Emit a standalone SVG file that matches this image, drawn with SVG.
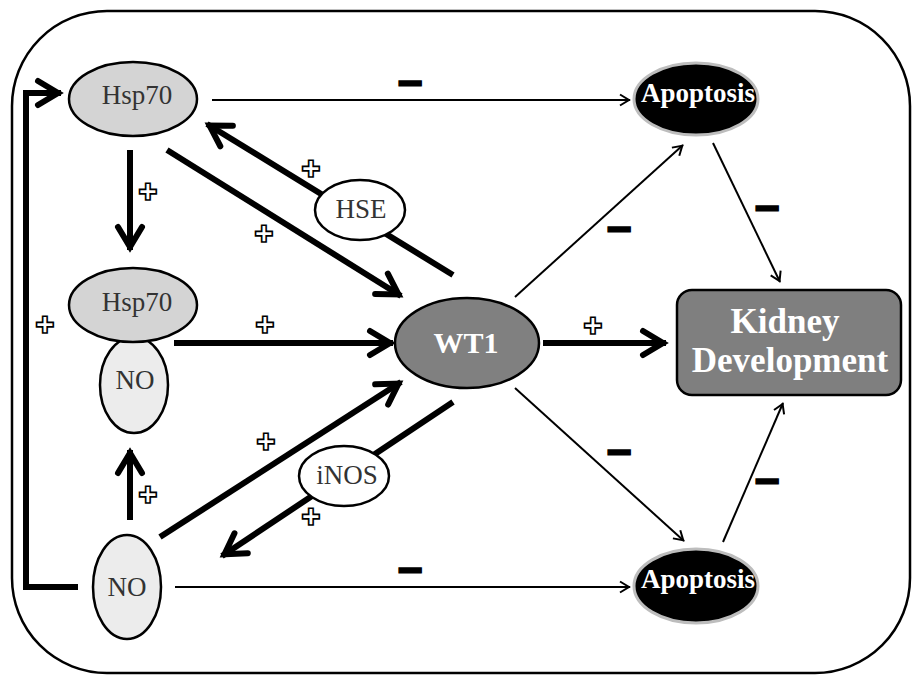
<svg xmlns="http://www.w3.org/2000/svg" width="915" height="676" viewBox="0 0 915 676">
<defs>
<style>
.thick{stroke:#000;stroke-width:6;fill:none;marker-end:url(#big)}
.thin{stroke:#000;stroke-width:2;fill:none;marker-end:url(#small)}
.nodeE{stroke:#000;stroke-width:2.5}
.lbl{font-family:"Liberation Serif",serif;font-size:27px;fill:#333;text-anchor:middle}
.blbl{font-family:"Liberation Serif",serif;font-size:27px;font-weight:bold;fill:#fff;text-anchor:middle}
.plus{font-family:"DejaVu Sans",sans-serif;font-size:23px;fill:#fff;stroke:#000;stroke-width:1.6;text-anchor:middle;dominant-baseline:central}
.minus{font-family:"Liberation Sans",sans-serif;font-size:44px;font-weight:bold;fill:#000;stroke:#000;stroke-width:1.5;text-anchor:middle}
</style>
<marker id="big" markerUnits="userSpaceOnUse" markerWidth="40" markerHeight="40" viewBox="-30 -20 40 40" refX="3" refY="0" orient="auto" overflow="visible">
<path d="M-20,-12 L0,0 L-20,12" fill="none" stroke="#000" stroke-width="6" stroke-linejoin="miter" stroke-linecap="round"/>
</marker>
<marker id="small" markerUnits="userSpaceOnUse" markerWidth="20" markerHeight="20" viewBox="-15 -10 20 20" refX="1" refY="0" orient="auto" overflow="visible">
<path d="M-9,-5.5 L0,0 L-9,5.5" fill="none" stroke="#000" stroke-width="2"/>
</marker>
</defs>
<rect x="0" y="0" width="915" height="676" fill="#fff"/>
<rect id="frame" x="12" y="11" width="898" height="662" rx="95" ry="95" fill="none" stroke="#000" stroke-width="2.5"/>

<g id="connectors">
<path class="thin" d="M212,100 L630,100"/>
<path class="thick" d="M130,150 L130,250"/>
<path class="thick" d="M167,150 L401,296"/>
<path class="thick" d="M453,275 L207,124"/>
<path class="thick" d="M174,343 L393,343"/>
<path class="thick" d="M130,520 L130,450"/>
<path class="thick" d="M160,537 L401,382"/>
<path class="thick" d="M453,402 L222,556"/>
<path d="M78,587 L26,587 L26,93 L61,93" fill="none" stroke="#000" stroke-width="6" stroke-linejoin="miter" marker-end="url(#big)"/>
<path class="thin" d="M175,587 L630,587"/>
<path class="thick" d="M543,343 L666,343"/>
<path class="thin" d="M515,297 L683,145"/>
<path class="thin" d="M515,388 L684,541"/>
<path class="thin" d="M713,143 L780,282"/>
<path class="thin" d="M723,542 L783,403"/>
</g>

<g id="labels">
<text class="minus" x="410" y="98">−</text>
<text class="minus" x="619" y="244">−</text>
<text class="minus" x="767" y="223">−</text>
<text class="minus" x="619" y="467">−</text>
<text class="minus" x="767" y="496">−</text>
<text class="minus" x="410" y="585">−</text>
<text class="plus" x="148" y="192">✚</text>
<text class="plus" x="311" y="169">✚</text>
<text class="plus" x="264" y="234">✚</text>
<text class="plus" x="265" y="325">✚</text>
<text class="plus" x="45" y="325">✚</text>
<text class="plus" x="148" y="495">✚</text>
<text class="plus" x="266" y="442">✚</text>
<text class="plus" x="311" y="517">✚</text>
<text class="plus" x="593" y="326">✚</text>
</g>

<g id="node-hsp70-top">
<ellipse class="nodeE" cx="133" cy="99" rx="64" ry="37" fill="#d4d4d4"/>
<text class="lbl" x="137" y="104">Hsp70</text>
</g>
<g id="node-no-mid">
<ellipse class="nodeE" cx="134" cy="385" rx="34" ry="48" fill="#ececec"/>
<text class="lbl" x="135" y="389">NO</text>
</g>
<g id="node-hsp70-mid">
<ellipse class="nodeE" cx="133" cy="305" rx="64" ry="37" fill="#d4d4d4"/>
<text class="lbl" x="137" y="311">Hsp70</text>
</g>
<g id="node-no-bottom">
<ellipse class="nodeE" cx="127" cy="587" rx="34" ry="52" fill="#ececec"/>
<text class="lbl" x="127" y="596">NO</text>
</g>
<g id="node-hse">
<ellipse class="nodeE" cx="360" cy="210" rx="45" ry="30" fill="#fff"/>
<text class="lbl" x="361" y="218">HSE</text>
</g>
<g id="node-inos">
<ellipse class="nodeE" cx="344" cy="476" rx="45" ry="30" fill="#fff"/>
<text class="lbl" x="347" y="484">iNOS</text>
</g>
<g id="node-wt1">
<ellipse class="nodeE" cx="467" cy="343" rx="72" ry="45" fill="#808080"/>
<text class="blbl" x="466" y="353" style="font-size:30px">WT1</text>
</g>
<g id="node-apoptosis-top">
<ellipse cx="696" cy="99" rx="62" ry="36" fill="#000" stroke="#bdbdbd" stroke-width="3"/>
<text class="blbl" x="698" y="102">Apoptosis</text>
</g>
<g id="node-apoptosis-bottom">
<ellipse cx="696" cy="586" rx="62" ry="37" fill="#000" stroke="#bdbdbd" stroke-width="3"/>
<text class="blbl" x="698" y="588">Apoptosis</text>
</g>
<g id="node-kidney">
<rect x="677" y="290" width="224" height="105" rx="15" ry="15" fill="#7f7f7f" stroke="#000" stroke-width="2.5"/>
<text class="blbl" x="785" y="333" style="font-size:35px">Kidney</text>
<text class="blbl" x="790" y="372" style="font-size:35px">Development</text>
</g>
</svg>
